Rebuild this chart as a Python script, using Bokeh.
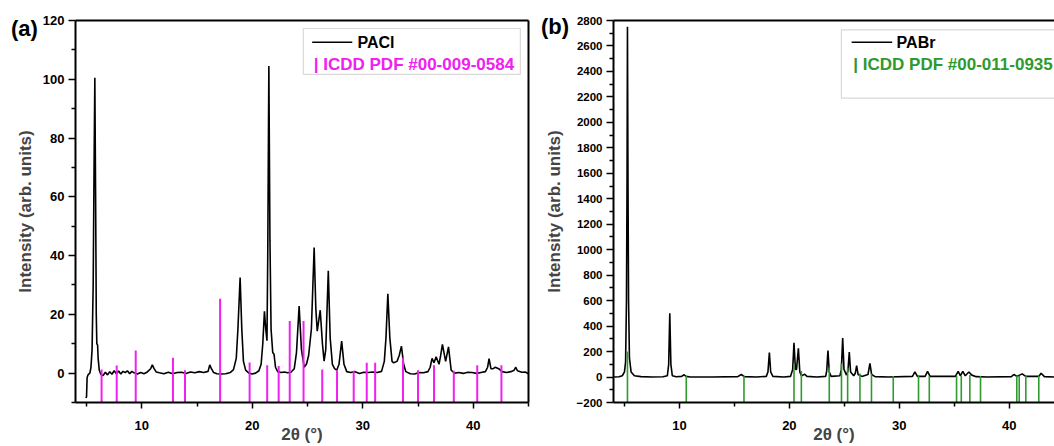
from bokeh.plotting import figure
from bokeh.models import (Range1d, FixedTicker, LinearAxis, Label, BoxAnnotation,
                          ColumnDataSource, GridBox, Div)
from bokeh.embed import file_html
from bokeh.resources import INLINE

# ---------------- data: panel (a) PACl ----------------
pacl_x = [4.95, 5.0, 5.05, 5.15, 5.3, 5.4, 5.5, 5.6, 5.68, 5.75, 5.82, 5.88, 5.93, 6.0, 6.05,
          6.15, 6.3, 6.5, 6.7, 6.9, 7.1, 7.3, 7.5, 7.7, 7.9, 8.1, 8.3, 8.5, 8.7, 8.9, 9.1, 9.3,
          9.6, 9.9, 10.2, 10.5, 10.8, 10.95, 11.1, 11.3, 11.6, 12.0, 12.4, 12.8, 13.2, 13.6,
          14.0, 14.4, 14.8, 15.2, 15.6, 16.0, 16.15, 16.3, 16.5, 16.8, 17.2, 17.6, 18.0, 18.3,
          18.55, 18.7, 18.9, 19.05, 19.2, 19.4, 19.7, 20.0, 20.3, 20.6, 20.8, 20.95, 21.1,
          21.22, 21.33, 21.4, 21.5, 21.6, 21.7, 21.85, 21.97, 22.1, 22.3, 22.6, 22.9, 23.2,
          23.5, 23.8, 24.0, 24.24, 24.45, 24.7, 24.9, 25.1, 25.35, 25.6, 25.75, 25.88, 26.15,
          26.35, 26.5, 26.65, 26.88, 27.05, 27.25, 27.45, 27.64, 27.85, 28.09, 28.3, 28.55,
          28.9, 29.3, 29.7, 30.1, 30.5, 30.9, 31.3, 31.7, 31.95, 32.1, 32.27, 32.45, 32.65,
          32.8, 33.1, 33.3, 33.5, 33.7, 33.9, 34.3, 34.7, 35.1, 35.5, 35.9, 36.1, 36.27, 36.45,
          36.64, 36.9, 37.05, 37.21, 37.5, 37.76, 38.0, 38.3, 38.7, 39.1, 39.5, 39.9, 40.3,
          40.7, 41.1, 41.3, 41.43, 41.6, 41.8, 42.0, 42.3, 42.6, 43.0, 43.4, 43.7, 43.85, 44.0,
          44.4, 44.7, 45.0]
pacl_y = [-8.5, -8.0, -1.5, -0.5, 0.0, 2.0, 8.0, 30.0, 70.0, 100.5, 60.0, 20.0, 10.0, 9.5, 5.0,
          1.0, -0.5, -0.8, 0.3, -0.6, 0.5, -0.4, 0.8, -0.2, 0.7, -0.3, 0.6, 0.2, 0.8, -0.2, 0.6,
          0.1, -0.3, 0.2, -0.2, 0.4, 1.5, 2.8, 1.6, 0.4, 0.1, -0.2, 0.3, -0.2, 0.2, 0.3, -0.1,
          0.4, 0.1, 0.5, 0.2, 0.6, 2.8, 1.5, 0.2, -0.2, -0.3, -0.2, 0.2, 1.2, 5.0, 15.0, 32.5,
          15.0, 4.0, 1.0, 0.0, -0.3, 0.0, 0.8, 3.0, 10.0, 21.0, 15.0, 11.0, 40.0, 104.5, 45.0,
          15.0, 7.0, 6.4, 2.0, 0.5, 0.2, 0.4, 0.1, 0.3, 1.5, 7.0, 22.8, 8.0, 2.0, 3.0, 6.0,
          15.0, 42.7, 22.0, 14.3, 21.4, 10.0, 4.1, 8.0, 34.8, 12.0, 3.0, 1.5, 1.0, 3.0, 10.9,
          3.0, 0.5, 0.2, 0.5, -0.1, 0.3, 0.2, 0.4, 0.2, 0.6, 4.0, 12.0, 27.0, 12.0, 4.0, 3.5,
          4.0, 6.0, 9.2, 3.0, 0.5, -0.2, -0.3, 0.2, 0.1, 0.5, 2.0, 5.0, 3.5, 5.6, 3.0, 6.0, 9.8,
          4.0, 8.9, 1.0, 0.0, 0.2, -0.1, 0.3, 0.2, -0.1, 0.2, 0.5, 2.0, 4.9, 1.5, 1.5, 2.0,
          1.5, 0.5, 0.2, 0.5, 1.0, 2.0, 0.8, 0.3, 0.4, -0.2]

# ICDD PDF #00-009-0584 reference lines
icdd_a_pos = [6.36, 7.73, 9.45, 12.82, 13.91, 17.09, 19.76, 21.35, 22.39, 23.39, 24.64,
              26.33, 27.67, 29.18, 30.36, 31.12, 33.64, 35.0, 36.45, 38.24, 40.36, 42.55]
icdd_a_int = [1.2, 2.6, 7.7, 5.2, 1.0, 25.3, 3.6, 2.7, 2.4, 17.7, 17.7,
              1.2, 1.0, 0.8, 3.5, 3.5, 5.2, 1.0, 2.7, 0.8, 2.7, 2.7]

# ---------------- data: panel (b) PABr ----------------
pabr_x = [4.05, 4.5, 4.8, 5.0, 5.1, 5.18, 5.23, 5.27, 5.32, 5.37, 5.45, 5.6, 5.9, 6.5, 7.5,
          8.5, 8.9, 9.02, 9.12, 9.22, 9.35, 9.7, 10.2, 10.42, 10.6, 11.0, 13.0, 15.3, 15.63,
          15.9, 17.0, 17.9, 18.05, 18.18, 18.3, 18.5, 19.5, 20.1, 20.3, 20.42, 20.55, 20.65,
          20.82, 20.95, 21.1, 21.4, 21.6, 22.5, 23.3, 23.4, 23.51, 23.63, 23.8, 24.6, 24.73,
          24.85, 24.97, 25.2, 25.33, 25.45, 25.57, 25.85, 26.0, 26.12, 26.25, 26.6, 27.15,
          27.33, 27.48, 27.8, 29.0, 31.2, 31.42, 31.65, 32.35, 32.57, 32.8, 35.1, 35.36, 35.55,
          35.78, 36.0, 36.33, 36.6, 37.0, 38.0, 40.2, 40.42, 40.7, 41.18, 41.5, 42.7, 42.9,
          43.2, 44.1]
pabr_y = [0, 2, 10, 40, 120, 600, 1500, 2750, 1500, 600, 150, 40, 10, 3, 0,
          2, 10, 100, 500, 100, 10, 2, 5, 18, 5, 0, 0, 3, 20,
          3, 0, 5, 40, 192, 40, 5, 0, 5, 60, 268, 60, 60,
          226, 40, 10, 22, 5, 0, 5, 50, 208, 40, 5, 10, 60,
          306, 60, 15, 50, 196, 40, 10, 30, 89, 20, 5, 20,
          107, 20, 3, 0, 5, 40, 5, 5, 45, 5, 5, 45, 10,
          45, 10, 40, 15, 3, 0, 3, 20, 5, 25, 5, 5, 30,
          3, 0]

# ICDD PDF #00-011-0935 reference lines
icdd_b_pos = [5.27, 10.62, 15.87, 20.42, 21.09, 23.63, 24.74, 25.30, 26.42, 27.47, 29.45,
              31.75, 32.73, 35.21, 35.64, 36.42, 37.39, 40.69, 40.91, 41.51, 42.69]
icdd_b_int = [200, 10, 10, 100, 48, 75, 106, 75, 28, 26, 8,
              10, 8, 10, 10, 15, 8, 10, 10, 8, 8]

# tick labels / ranges
a_yticks = [0, 20, 40, 60, 80, 100, 120]
a_yminor = [-10, 10, 30, 50, 70, 90, 110]
b_yticks = list(range(-200, 2801, 200))
b_yminor = list(range(-100, 2800, 200))
xticks = [10, 20, 30, 40]
xminor = [5, 15, 25, 35, 45]

FONT = "Liberation Sans"
MAGENTA = "#f020f0"
GREEN = "#2e9a2e"


def frac(r, f):
    return r.start + f * (r.end - r.start)


def style_axes(p, ylab_size, ylabel_standoff):
    for ax in p.xaxis:
        ax.ticker = FixedTicker(ticks=xticks, minor_ticks=xminor)
        ax.major_tick_in = 0
        ax.major_tick_out = 6
        ax.minor_tick_in = 0
        ax.minor_tick_out = 4
        ax.axis_line_width = 2
        ax.major_tick_line_width = 1.5
        ax.minor_tick_line_width = 1.5
        ax.major_label_text_font = FONT
        ax.major_label_text_font_style = "bold"
        ax.major_label_text_font_size = "13px"
        ax.major_label_text_color = "black"
        ax.major_label_standoff = 12
        ax.axis_label = "2θ (°)"
        ax.axis_label_text_font = FONT
        ax.axis_label_text_font_style = "bold"
        ax.axis_label_text_font_size = "17px"
        ax.axis_label_standoff = -8
    for ax in p.yaxis:
        ax.major_tick_in = 0
        ax.major_tick_out = 7
        ax.minor_tick_in = 0
        ax.minor_tick_out = 4
        ax.axis_line_width = 2
        ax.major_tick_line_width = 1.5
        ax.minor_tick_line_width = 1.5
        ax.major_label_text_font = FONT
        ax.major_label_text_font_style = "bold"
        ax.major_label_text_font_size = ylab_size
        ax.major_label_text_color = "black"
        ax.major_label_standoff = 4
        ax.axis_label = "Intensity (arb. units)"
        ax.axis_label_text_font = FONT
        ax.axis_label_text_font_style = "bold"
        ax.axis_label_text_font_size = "17px"
        ax.axis_label_standoff = ylabel_standoff
    p.xgrid.visible = False
    p.ygrid.visible = False
    p.outline_line_color = None


def frame_axis(p, loc):
    ax = LinearAxis(ticker=FixedTicker(ticks=[]), axis_line_width=2,
                    major_tick_line_color=None, minor_tick_line_color=None,
                    major_label_text_font_size="0px")
    p.add_layout(ax, loc)


def legend(p, box, line, name, ref_text, ref_color, ref_y):
    xr, yr = p.x_range, p.y_range
    p.add_layout(BoxAnnotation(left=frac(xr, box[0]), right=frac(xr, box[1]),
                               top=frac(yr, box[2]), bottom=frac(yr, box[3]),
                               fill_color="white", fill_alpha=1, line_color="#808080",
                               line_width=1.2))
    p.line([frac(xr, line[0]), frac(xr, line[1])], [frac(yr, line[2])] * 2,
           line_color="black", line_width=1.6, level="overlay")
    p.add_layout(Label(x=frac(xr, line[3]), y=frac(yr, line[2]), text=name,
                       text_font=FONT, text_font_style="bold", text_font_size="16px",
                       text_color="black", text_baseline="middle", text_align="left",
                       level="overlay"))
    p.add_layout(Label(x=frac(xr, ref_y[0]), y=frac(yr, ref_y[1]), text=ref_text,
                       text_font=FONT, text_font_style="bold", text_font_size="17px",
                       text_color=ref_color, text_baseline="middle", text_align="left",
                       level="overlay"))


def panel_tag(text, top, left):
    return Div(text=("<span style=\"font-family:'Liberation Sans';font-size:22px;"
                     "font-weight:bold;color:black;line-height:26px\">%s</span>" % text),
               width=32, height=26, margin=(top, 0, 0, left), align="start",
               styles={"position": "relative", "z-index": "10"})


# ---------------- panel (a) ----------------
pa = figure(width=540, height=446, output_backend="svg", toolbar_location=None,
            x_range=Range1d(4, 45), y_range=Range1d(-10, 120),
            min_border_left=75, min_border_right=12, min_border_top=20, min_border_bottom=44,
            background_fill_color="white", border_fill_color=None)
style_axes(pa, "13px", 5)
pa.yaxis.ticker = FixedTicker(ticks=a_yticks, minor_ticks=a_yminor)
frame_axis(pa, "above")
frame_axis(pa, "right")

pa.line(pacl_x, pacl_y, line_color="black", line_width=1.6)
src_a = ColumnDataSource(dict(x=icdd_a_pos, top=icdd_a_int,
                              bottom=[pa.y_range.start] * len(icdd_a_pos)))
pa.segment(x0="x", y0="bottom", x1="x", y1="top", source=src_a,
           line_color=MAGENTA, line_width=2)
legend(pa, (0.503, 0.982, 0.979, 0.859), (0.5225, 0.611, 0.943, 0.6225),
       "PACl", "| ICDD PDF #00-009-0584", MAGENTA, (0.526, 0.884))

# ---------------- panel (b) ----------------
pb = figure(width=514, height=446, output_backend="svg", toolbar_location=None,
            x_range=Range1d(4, 44.12), y_range=Range1d(-200, 2800),
            min_border_left=73, min_border_right=0, min_border_top=20, min_border_bottom=44,
            background_fill_color="white", border_fill_color=None)
style_axes(pb, "11.5px", 10)
pb.yaxis.ticker = FixedTicker(ticks=b_yticks, minor_ticks=b_yminor)
frame_axis(pb, "above")

pb.line(pabr_x, pabr_y, line_color="black", line_width=1.6)
src_b = ColumnDataSource(dict(x=icdd_b_pos, top=icdd_b_int,
                              bottom=[pb.y_range.start] * len(icdd_b_pos)))
pb.segment(x0="x", y0="bottom", x1="x", y1="top", source=src_b,
           line_color=GREEN, line_width=1.6)
legend(pb, (0.5167, 1.1, 0.9757, 0.7966), (0.540, 0.632, 0.943, 0.642),
       "PABr", "| ICDD PDF #00-011-0935", GREEN, (0.5439, 0.884))

tag_a = panel_tag("(a)", 16, 11)
tag_b = panel_tag("(b)", 14, 1)

layout = GridBox(children=[(pa, 0, 0), (pb, 0, 1), (tag_a, 0, 0), (tag_b, 0, 1)])
open("out.html", "w").write(file_html(layout, INLINE))
